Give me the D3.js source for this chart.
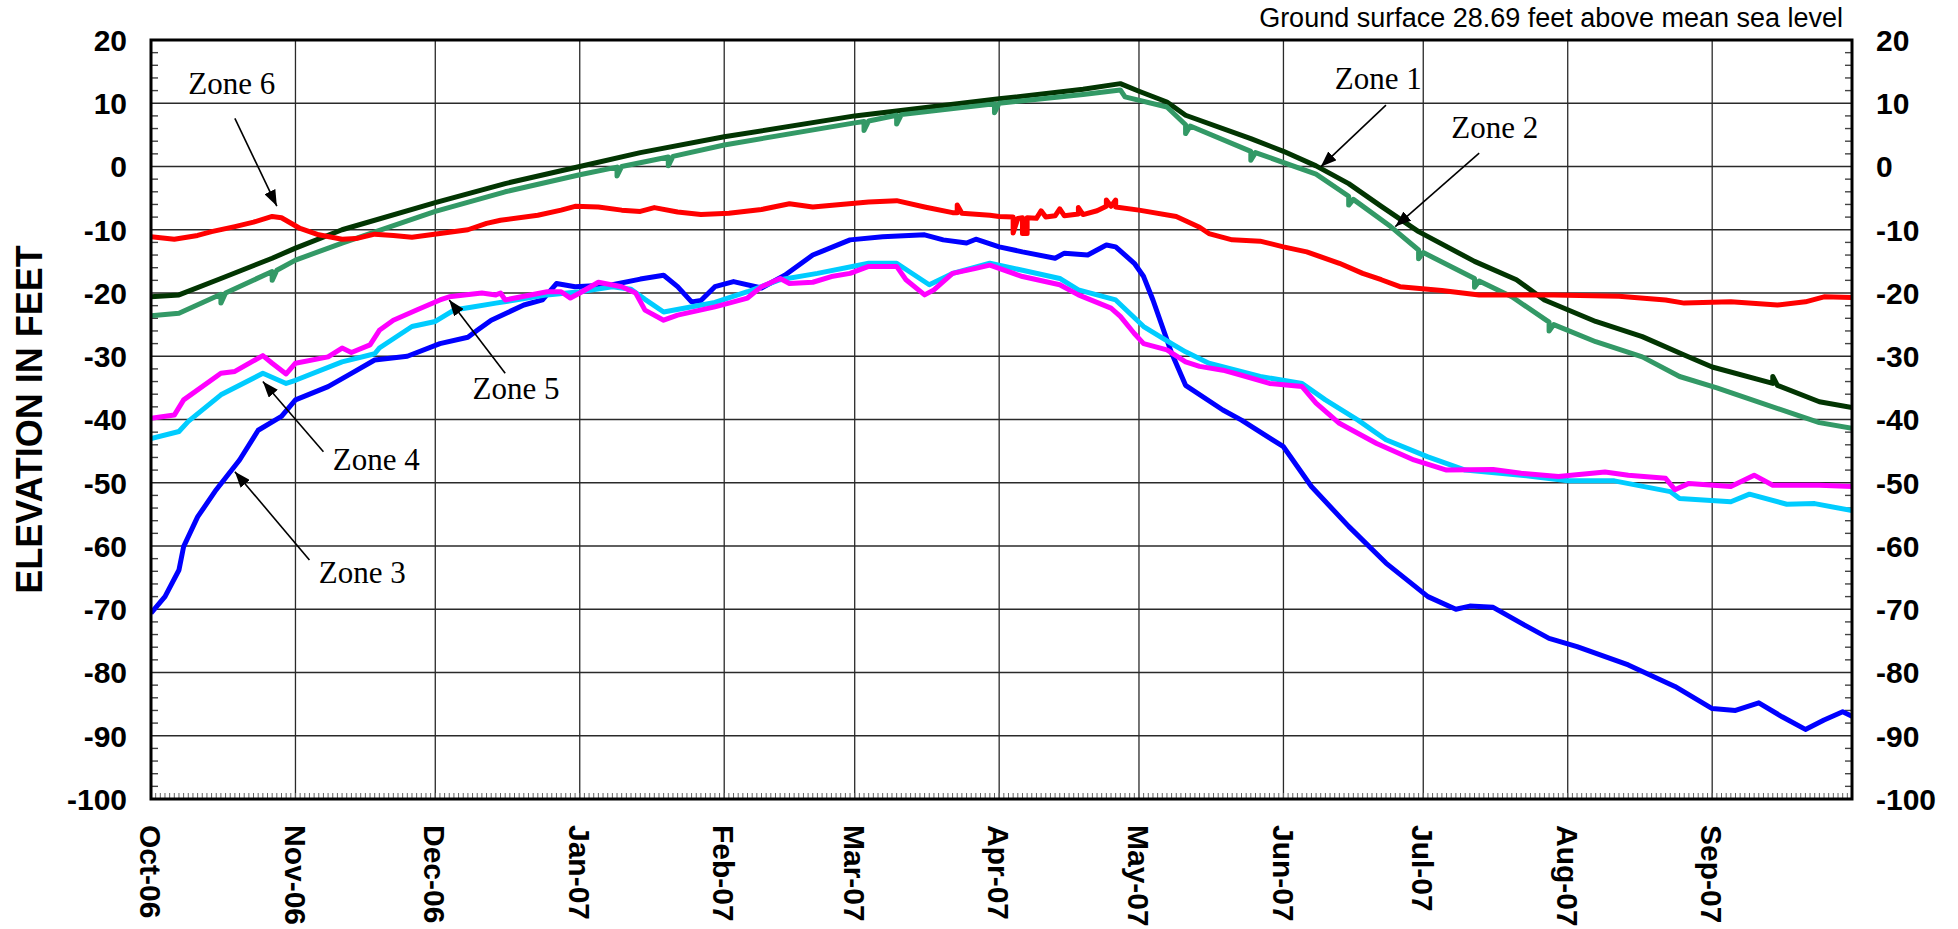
<!DOCTYPE html>
<html>
<head>
<meta charset="utf-8">
<script src="https://cdn.jsdelivr.net/npm/d3@7"></script>
<style>
  body { margin: 0; background: #fff; }
  svg { display: block; }
</style>
</head>
<body>
<svg id="chart" width="1958" height="929"></svg>
<script>
// ---- Water-level records, elevation in feet (date, elevation) ----
const zone1 = [
  ["2006-10-01",-20.6],["2006-10-07",-20.3],["2006-10-16",-17.7],["2006-10-27",-14.5],["2006-11-01",-12.9],
  ["2006-11-11",-10.0],["2006-12-01",-5.7],["2006-12-16",-2.7],["2007-01-01",0.0],["2007-01-14",2.2],
  ["2007-02-01",4.7],["2007-03-01",8.0],["2007-04-01",10.7],["2007-04-19",12.2],["2007-04-27",13.1],
  ["2007-05-01",11.9],["2007-05-07",10.2],["2007-05-11",8.1],["2007-05-25",4.4],["2007-06-01",2.4],
  ["2007-06-08",0.1],["2007-06-15",-2.7],["2007-06-22",-6.3],["2007-06-30",-10.3],["2007-07-12",-15.0],
  ["2007-07-21",-17.9],["2007-07-27",-21.1],["2007-08-07",-24.5],["2007-08-17",-26.9],["2007-08-26",-29.8],
  ["2007-09-01",-31.7],["2007-09-14",-34.3],["2007-09-14",-33.2],["2007-09-15",-34.6],["2007-09-24",-37.2],
  ["2007-10-01",-38.1]
];

const zone2 = [
  ["2006-10-01",-23.6],["2006-10-07",-23.2],["2006-10-16",-20.2],["2006-10-16",-21.6],["2006-10-17",-20.0],
  ["2006-10-27",-16.6],["2006-10-27",-18.0],["2006-10-28",-16.4],["2006-11-01",-14.8],["2006-11-11",-12.1],
  ["2006-12-01",-7.1],["2006-12-16",-4.0],["2007-01-01",-1.3],["2007-01-09",-0.1],["2007-01-09",-1.5],
  ["2007-01-10",0.0],["2007-01-20",1.5],["2007-01-20",0.1],["2007-01-21",1.6],["2007-02-01",3.4],
  ["2007-03-01",6.9],["2007-03-03",7.1],["2007-03-03",5.7],["2007-03-04",7.2],["2007-03-10",8.1],
  ["2007-03-10",6.7],["2007-03-11",8.2],["2007-03-31",9.9],["2007-03-31",8.5],["2007-04-01",10.0],
  ["2007-04-19",11.4],["2007-04-27",12.1],["2007-04-28",11.0],["2007-05-07",9.4],["2007-05-11",6.6],
  ["2007-05-11",5.2],["2007-05-12",6.4],["2007-05-25",2.4],["2007-05-25",1.0],["2007-05-26",2.2],
  ["2007-06-08",-1.2],["2007-06-15",-4.7],["2007-06-15",-6.1],["2007-06-16",-5.2],["2007-06-24",-9.5],
  ["2007-06-30",-13.2],["2007-06-30",-14.6],["2007-07-01",-13.6],["2007-07-12",-17.7],["2007-07-12",-19.1],
  ["2007-07-13",-18.1],["2007-07-20",-20.6],["2007-07-28",-24.6],["2007-07-28",-26.0],["2007-07-29",-25.0],
  ["2007-08-07",-27.7],["2007-08-17",-30.1],["2007-08-25",-33.2],["2007-09-02",-35.0],["2007-09-24",-40.5],
  ["2007-10-01",-41.4]
];

const zone3 = [
  ["2006-10-01",-70.6],["2006-10-04",-68.0],["2006-10-07",-63.8],["2006-10-08",-60.1],["2006-10-11",-55.4],
  ["2006-10-15",-51.1],["2006-10-20",-46.4],["2006-10-24",-41.7],["2006-10-29",-39.5],["2006-11-01",-36.9],
  ["2006-11-08",-34.8],["2006-11-13",-32.7],["2006-11-18",-30.6],["2006-11-25",-30.0],["2006-12-02",-28.0],
  ["2006-12-08",-27.0],["2006-12-10",-25.9],["2006-12-13",-24.3],["2006-12-20",-21.9],["2006-12-24",-21.1],
  ["2006-12-27",-18.5],["2006-12-31",-19.0],["2007-01-08",-18.7],["2007-01-14",-17.8],["2007-01-19",-17.2],
  ["2007-01-22",-19.0],["2007-01-25",-21.4],["2007-01-27",-21.2],["2007-01-30",-19.0],["2007-02-03",-18.2],
  ["2007-02-09",-19.2],["2007-02-14",-17.2],["2007-02-20",-14.0],["2007-02-28",-11.6],["2007-03-07",-11.1],
  ["2007-03-16",-10.8],["2007-03-20",-11.6],["2007-03-25",-12.1],["2007-03-27",-11.5],["2007-04-01",-12.7],
  ["2007-04-06",-13.5],["2007-04-13",-14.5],["2007-04-15",-13.7],["2007-04-20",-14.0],["2007-04-24",-12.4],
  ["2007-04-26",-12.7],["2007-04-30",-15.3],["2007-05-02",-17.4],["2007-05-04",-21.1],["2007-05-06",-25.3],
  ["2007-05-08",-29.5],["2007-05-11",-34.6],["2007-05-19",-38.5],["2007-05-23",-40.1],["2007-06-01",-44.3],
  ["2007-06-07",-50.6],["2007-06-15",-56.9],["2007-06-23",-62.7],["2007-07-02",-68.0],["2007-07-08",-70.0],
  ["2007-07-11",-69.5],["2007-07-16",-69.7],["2007-07-22",-72.2],["2007-07-28",-74.6],["2007-08-03",-75.9],
  ["2007-08-14",-78.8],["2007-08-24",-82.2],["2007-09-01",-85.7],["2007-09-06",-86.0],["2007-09-11",-84.8],
  ["2007-09-16",-87.0],["2007-09-21",-89.0],["2007-09-25",-87.5],["2007-09-29",-86.2],["2007-10-01",-86.9]
];

const zone4 = [
  ["2006-10-01",-43.0],["2006-10-07",-41.9],["2006-10-09",-40.3],["2006-10-16",-36.1],["2006-10-25",-32.7],
  ["2006-10-30",-34.3],["2006-11-01",-33.8],["2006-11-11",-30.9],["2006-11-18",-29.6],["2006-11-19",-28.7],
  ["2006-11-26",-25.3],["2006-12-01",-24.5],["2006-12-05",-22.7],["2006-12-09",-22.2],["2006-12-14",-21.6],
  ["2006-12-25",-20.3],["2007-01-01",-19.8],["2007-01-08",-19.0],["2007-01-12",-19.4],["2007-01-15",-21.0],
  ["2007-01-19",-23.0],["2007-01-30",-21.5],["2007-02-06",-19.8],["2007-02-13",-17.9],["2007-02-21",-16.9],
  ["2007-03-04",-15.3],["2007-03-10",-15.3],["2007-03-17",-18.7],["2007-03-22",-16.9],["2007-03-30",-15.3],
  ["2007-04-06",-16.4],["2007-04-14",-17.7],["2007-04-18",-19.5],["2007-04-26",-21.1],["2007-05-02",-25.3],
  ["2007-05-08",-28.0],["2007-05-11",-29.3],["2007-05-16",-31.1],["2007-05-27",-33.2],["2007-06-05",-34.3],
  ["2007-06-10",-36.9],["2007-06-17",-40.1],["2007-06-23",-43.2],["2007-07-02",-45.9],["2007-07-10",-48.0],
  ["2007-07-22",-48.8],["2007-08-01",-49.7],["2007-08-11",-49.7],["2007-08-23",-51.4],["2007-08-25",-52.5],
  ["2007-09-05",-53.0],["2007-09-09",-51.8],["2007-09-17",-53.4],["2007-09-23",-53.3],["2007-10-01",-54.4]
];

const zone5 = [
  ["2006-10-01",-39.8],["2006-10-06",-39.3],["2006-10-08",-36.9],["2006-10-16",-32.7],["2006-10-19",-32.4],
  ["2006-10-25",-29.9],["2006-10-27",-31.1],["2006-10-30",-32.8],["2006-11-01",-31.1],["2006-11-08",-30.1],
  ["2006-11-11",-28.7],["2006-11-13",-29.4],["2006-11-17",-28.2],["2006-11-19",-25.9],["2006-11-22",-24.3],
  ["2006-11-27",-22.7],["2006-12-02",-21.1],["2006-12-04",-20.6],["2006-12-11",-20.0],["2006-12-14",-20.3],
  ["2006-12-15",-20.0],["2006-12-16",-21.1],["2006-12-25",-19.8],["2006-12-28",-19.8],["2006-12-30",-20.8],
  ["2007-01-01",-20.0],["2007-01-05",-18.3],["2007-01-10",-19.0],["2007-01-13",-20.0],["2007-01-15",-22.7],
  ["2007-01-19",-24.3],["2007-01-22",-23.5],["2007-01-30",-22.2],["2007-02-06",-20.8],["2007-02-09",-19.0],
  ["2007-02-13",-17.7],["2007-02-15",-18.5],["2007-02-20",-18.3],["2007-02-24",-17.4],["2007-02-28",-16.9],
  ["2007-03-04",-15.8],["2007-03-10",-15.8],["2007-03-12",-17.9],["2007-03-16",-20.3],["2007-03-18",-19.5],
  ["2007-03-22",-16.9],["2007-03-27",-16.1],["2007-03-30",-15.6],["2007-04-06",-17.4],["2007-04-14",-18.7],
  ["2007-04-18",-20.3],["2007-04-25",-22.4],["2007-04-27",-23.7],["2007-04-30",-26.4],["2007-05-02",-28.0],
  ["2007-05-07",-29.0],["2007-05-11",-30.9],["2007-05-14",-31.6],["2007-05-19",-32.2],["2007-05-23",-33.0],
  ["2007-05-29",-34.3],["2007-06-05",-34.8],["2007-06-08",-37.4],["2007-06-13",-40.6],["2007-06-21",-43.8],
  ["2007-06-29",-46.4],["2007-07-06",-48.0],["2007-07-16",-47.9],["2007-07-22",-48.5],["2007-07-30",-49.0],
  ["2007-08-09",-48.3],["2007-08-14",-48.8],["2007-08-22",-49.3],["2007-08-24",-51.1],["2007-08-27",-50.1],
  ["2007-09-05",-50.6],["2007-09-10",-48.8],["2007-09-14",-50.4],["2007-09-24",-50.4],["2007-10-01",-50.6]
];

const zone6 = [
  ["2006-10-01",-11.1],["2006-10-06",-11.5],["2006-10-11",-10.9],["2006-10-14",-10.3],["2006-10-19",-9.5],
  ["2006-10-23",-8.8],["2006-10-27",-7.9],["2006-10-29",-8.1],["2006-11-02",-9.8],["2006-11-06",-10.8],
  ["2006-11-11",-11.5],["2006-11-14",-11.4],["2006-11-18",-10.7],["2006-11-22",-10.9],["2006-11-26",-11.2],
  ["2006-12-02",-10.6],["2006-12-08",-10.0],["2006-12-12",-9.0],["2006-12-15",-8.5],["2006-12-23",-7.7],
  ["2006-12-28",-6.9],["2006-12-31",-6.3],["2007-01-05",-6.4],["2007-01-10",-6.9],["2007-01-14",-7.1],
  ["2007-01-17",-6.5],["2007-01-22",-7.2],["2007-01-27",-7.6],["2007-02-02",-7.4],["2007-02-09",-6.8],
  ["2007-02-15",-5.9],["2007-02-20",-6.4],["2007-02-26",-6.0],["2007-03-04",-5.6],["2007-03-10",-5.4],
  ["2007-03-16",-6.4],["2007-03-22",-7.3],["2007-03-23",-7.3],["2007-03-23",-6.1],["2007-03-24",-7.4],
  ["2007-03-30",-7.7],["2007-04-01",-7.9],["2007-04-04",-8.0],["2007-04-04",-10.5],["2007-04-05",-8.2],
  ["2007-04-06",-8.1],["2007-04-06",-10.6],["2007-04-07",-10.6],["2007-04-07",-8.1],["2007-04-09",-8.2],
  ["2007-04-10",-7.0],["2007-04-11",-8.0],["2007-04-13",-7.8],["2007-04-14",-6.7],["2007-04-15",-7.8],
  ["2007-04-18",-7.5],["2007-04-18",-6.5],["2007-04-19",-7.6],["2007-04-22",-7.0],["2007-04-24",-6.3],
  ["2007-04-24",-5.3],["2007-04-25",-6.3],["2007-04-26",-5.3],["2007-04-26",-6.4],["2007-05-01",-6.9],
  ["2007-05-09",-7.9],["2007-05-14",-9.6],["2007-05-16",-10.6],["2007-05-21",-11.6],["2007-05-27",-11.8],
  ["2007-06-01",-12.7],["2007-06-06",-13.5],["2007-06-13",-15.3],["2007-06-18",-16.9],["2007-06-22",-17.9],
  ["2007-06-26",-19.0],["2007-07-05",-19.6],["2007-07-13",-20.3],["2007-07-29",-20.3],["2007-08-12",-20.5],
  ["2007-08-22",-21.1],["2007-08-26",-21.6],["2007-09-05",-21.4],["2007-09-15",-21.9],["2007-09-21",-21.4],
  ["2007-09-25",-20.6],["2007-10-01",-20.7]
];

// ---- Axis labels ----
const monthLabels = ["Oct-06","Nov-06","Dec-06","Jan-07","Feb-07","Mar-07","Apr-07","May-07","Jun-07","Jul-07","Aug-07","Sep-07"];
const elevationTicks = [20, 10, 0, -10, -20, -30, -40, -50, -60, -70, -80, -90, -100];

// ---- Zone callouts: label anchor, arrow start, arrow tip (date, elevation) ----
const callouts = [
  { name: "Zone 6", text: ["2006-10-09", 11.5],  from: ["2006-10-19", 7.6],   to: ["2006-10-28", -6.25] },
  { name: "Zone 1", text: ["2007-06-12", 12.2],  from: ["2007-06-23", 9.7],   to: ["2007-06-09", -0.05] },
  { name: "Zone 2", text: ["2007-07-07", 4.5],   from: ["2007-07-13", 2.1],   to: ["2007-06-25", -9.5] },
  { name: "Zone 5", text: ["2006-12-09", -36.8], from: ["2006-12-16", -32.7], to: ["2006-12-04", -21.1] },
  { name: "Zone 4", text: ["2006-11-09", -48.0], from: ["2006-11-07", -45.1], to: ["2006-10-25", -34.0] },
  { name: "Zone 3", text: ["2006-11-06", -65.8], from: ["2006-11-04", -62.2], to: ["2006-10-19", -48.25] }
];

const series = [
  { name: "Zone 1", values: zone1, color: "#023502" },
  { name: "Zone 2", values: zone2, color: "#339966" },
  { name: "Zone 3", values: zone3, color: "#0000ff" },
  { name: "Zone 4", values: zone4, color: "#00ccff" },
  { name: "Zone 5", values: zone5, color: "#ff00ff" },
  { name: "Zone 6", values: zone6, color: "#ff0000" }
];

// ---- Layout ----
const plot = { left: 151, right: 1852, top: 40, bottom: 799 };
const sans = "'Liberation Sans', Arial, sans-serif";
const serif = "'Liberation Serif', 'Times New Roman', serif";

const parseDate = d3.utcParse("%Y-%m-%d");
const startDate = parseDate("2006-10-01");
const endDate = parseDate("2007-10-01");

const x = d3.scaleUtc().domain([startDate, endDate]).range([plot.left, plot.right]);
const y = d3.scaleLinear().domain([-100, 20]).range([plot.bottom, plot.top]);

const svg = d3.select("#chart");

svg.append("defs").append("clipPath").attr("id", "plot-clip")
  .append("rect")
  .attr("x", plot.left).attr("y", plot.top)
  .attr("width", plot.right - plot.left).attr("height", plot.bottom - plot.top);

svg.append("defs").append("marker")
  .attr("id", "arrowhead")
  .attr("viewBox", "0 0 16 12")
  .attr("refX", 16).attr("refY", 6)
  .attr("markerWidth", 16).attr("markerHeight", 12)
  .attr("markerUnits", "userSpaceOnUse")
  .attr("orient", "auto")
  .append("path").attr("d", "M0,0 L16,6 L0,12 Z").attr("fill", "#000");

// Gridlines
const months = d3.utcMonth.range(startDate, endDate);
const grid = svg.append("g").attr("class", "grid")
  .attr("stroke", "#2a2a2a").attr("stroke-width", 1.3);

grid.selectAll("line.v").data(months.slice(1)).join("line")
  .attr("class", "v")
  .attr("x1", d => x(d)).attr("x2", d => x(d))
  .attr("y1", plot.top).attr("y2", plot.bottom);

grid.selectAll("line.h").data(elevationTicks.filter(v => v > -100 && v < 20)).join("line")
  .attr("class", "h")
  .attr("x1", plot.left).attr("x2", plot.right)
  .attr("y1", d => y(d)).attr("y2", d => y(d));

// Minor ticks
const ticks = svg.append("g").attr("stroke", "#444").attr("stroke-width", 1.4);
const minorY = d3.range(-98, 20, 2).filter(v => v % 10 !== 0);
ticks.selectAll("line.yl").data(minorY).join("line")
  .attr("x1", plot.left).attr("x2", plot.left + 7)
  .attr("y1", d => y(d)).attr("y2", d => y(d));
ticks.selectAll("line.yr").data(minorY).join("line")
  .attr("class", "yr")
  .attr("x1", plot.right - 7).attr("x2", plot.right)
  .attr("y1", d => y(d)).attr("y2", d => y(d));

const days = d3.utcDay.range(startDate, endDate);
svg.append("g").attr("stroke", "#666").attr("stroke-width", 1)
  .selectAll("line").data(days).join("line")
  .attr("x1", d => x(d)).attr("x2", d => x(d))
  .attr("y1", plot.bottom - 6).attr("y2", plot.bottom);

// Series
const line = d3.line()
  .x(d => x(parseDate(d[0])))
  .y(d => y(d[1]));

svg.append("g").attr("clip-path", "url(#plot-clip)")
  .selectAll("path").data(series).join("path")
  .attr("d", d => line(d.values))
  .attr("fill", "none")
  .attr("stroke", d => d.color)
  .attr("stroke-width", 5)
  .attr("stroke-linejoin", "round");

// Frame
svg.append("rect")
  .attr("x", plot.left).attr("y", plot.top)
  .attr("width", plot.right - plot.left).attr("height", plot.bottom - plot.top)
  .attr("fill", "none").attr("stroke", "#000").attr("stroke-width", 3);

// Y labels, both sides
const yLab = svg.append("g")
  .attr("font-family", sans).attr("font-weight", "bold").attr("font-size", 30).attr("fill", "#000");
yLab.selectAll("text.l").data(elevationTicks).join("text")
  .attr("x", 127).attr("y", d => y(d)).attr("dy", "0.36em")
  .attr("text-anchor", "end").text(d => d);
yLab.selectAll("text.r").data(elevationTicks).join("text")
  .attr("class", "r")
  .attr("x", 1876).attr("y", d => y(d)).attr("dy", "0.36em")
  .attr("text-anchor", "start").text(d => d);

// Month labels, rotated
svg.append("g")
  .attr("font-family", sans).attr("font-weight", "bold").attr("font-size", 30).attr("fill", "#000")
  .selectAll("text").data(months).join("text")
  .attr("transform", d => `translate(${x(d)},825) rotate(90)`)
  .attr("dy", "0.36em")
  .attr("text-anchor", "start")
  .text((d, i) => monthLabels[i]);

// Axis title
svg.append("text")
  .attr("transform", `translate(42,${(plot.top + plot.bottom) / 2}) rotate(-90)`)
  .attr("text-anchor", "middle")
  .attr("font-family", sans).attr("font-weight", "bold").attr("font-size", 36)
  .text("ELEVATION IN FEET");

// Datum note
svg.append("text")
  .attr("x", 1843).attr("y", 27)
  .attr("text-anchor", "end")
  .attr("font-family", sans).attr("font-size", 27)
  .text("Ground surface 28.69 feet above mean sea level");

// Zone callouts
const ann = svg.append("g");
ann.selectAll("line").data(callouts).join("line")
  .attr("x1", d => x(parseDate(d.from[0]))).attr("y1", d => y(d.from[1]))
  .attr("x2", d => x(parseDate(d.to[0]))).attr("y2", d => y(d.to[1]))
  .attr("stroke", "#000").attr("stroke-width", 1.6)
  .attr("marker-end", "url(#arrowhead)");
ann.selectAll("text").data(callouts).join("text")
  .attr("x", d => x(parseDate(d.text[0]))).attr("y", d => y(d.text[1]))
  .attr("font-family", serif).attr("font-size", 31).attr("fill", "#000")
  .text(d => d.name);
</script>
</body>
</html>
